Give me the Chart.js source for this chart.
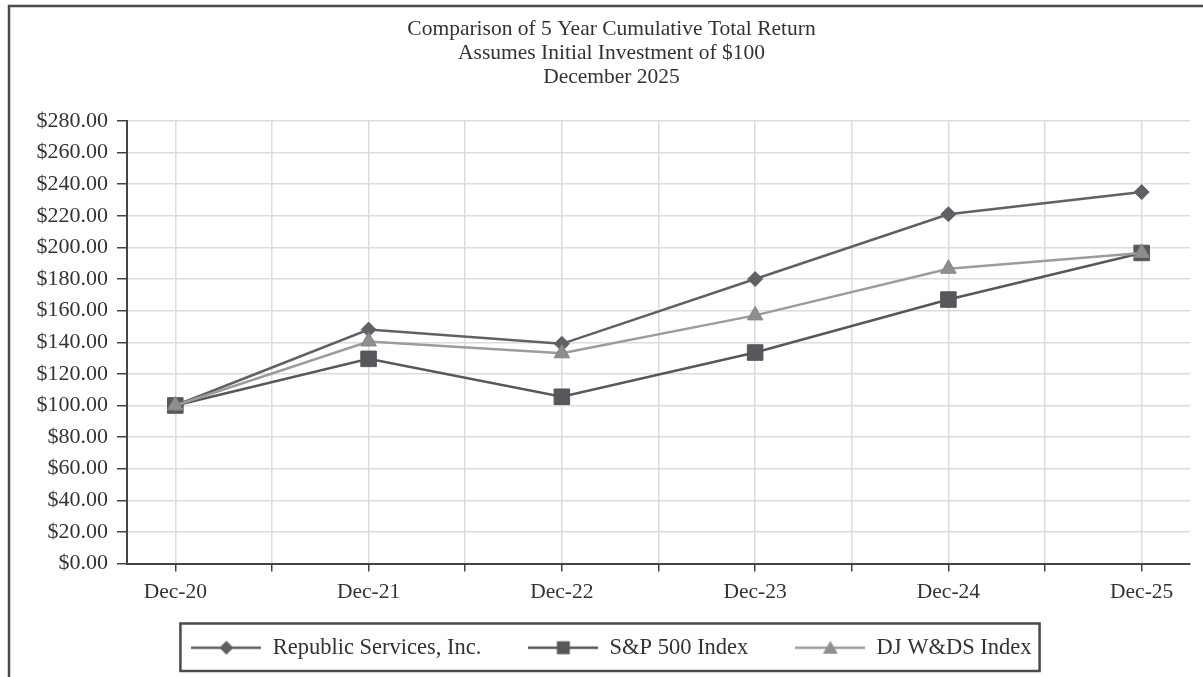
<!DOCTYPE html>
<html>
<head>
<meta charset="utf-8">
<script src="https://cdn.jsdelivr.net/npm/chart.js@4/dist/chart.umd.min.js"></script>
<style>
    html, body { margin: 0; padding: 0; background: #ffffff; }
    #wrap { width: 1203px; height: 677px; position: relative; }
</style>
</head>
<body>
<div id="wrap"><canvas id="returnChart"></canvas></div>
<script>
// ===================== DATA =====================

const categories = ['Dec-20', 'Dec-21', 'Dec-22', 'Dec-23', 'Dec-24', 'Dec-25'];
const republic = [100, 148, 139, 180, 221, 235];
const sp500 = [100, 129.5, 105.5, 133.5, 167, 196.5];
const djwds = [100, 140.5, 133, 157, 186.5, 196.5];
const seriesNames = ['Republic Services, Inc.', 'S&P 500 Index', 'DJ W&DS Index'];
const titleLines = ['Comparison of 5 Year Cumulative Total Return', 'Assumes Initial Investment of $100', 'December 2025'];
const yMin = 0;
const yMax = 280;
const yStep = 20;

const FONT = "'Liberation Serif', 'Times New Roman', serif";

// ===================== HELPERS =====================

function toPoints(values) {
    return values.map((v, i) => ({ x: i, y: v }));
}

// little line + marker swatch for the legend
function makeSwatch(color, markerColor, marker) {
    const c = document.createElement('canvas');
    c.width = 70;
    c.height = 20;
    const g = c.getContext('2d');
    g.strokeStyle = color;
    g.lineWidth = 2.5;
    g.beginPath();
    g.moveTo(0, 10);
    g.lineTo(70, 10);
    g.stroke();
    g.fillStyle = markerColor;
    g.beginPath();
    if (marker === 'diamond') {
        g.moveTo(35, 3); g.lineTo(42, 10); g.lineTo(35, 17); g.lineTo(28, 10);
    } else if (marker === 'square') {
        g.rect(28.5, 3.5, 13, 13);
    } else {
        g.moveTo(35, 3); g.lineTo(42.5, 16); g.lineTo(27.5, 16);
    }
    g.closePath();
    g.fill();
    return c;
}

const swatches = [
    makeSwatch('#606066', '#606066', 'diamond'),
    makeSwatch('#58585c', '#58585c', 'square'),
    makeSwatch('#9c9c9c', '#8e8e8e', 'triangle')
];

// outer frame and the box round the legend
const framePlugin = {
    id: 'frame',
    afterLayout(chart) {
        // let the x labels draw below the thin axis box without being clipped
        const x = chart.scales.x;
        x.bottom = x.top + 48;
    },
    afterDraw(chart) {
        const ctx = chart.ctx;
        ctx.save();
        ctx.strokeStyle = '#4a4a4a';
        ctx.lineWidth = 2.5;
        ctx.strokeRect(9, 6, 1400, 900);

        const boxes = chart.legend && chart.legend.legendHitBoxes;
        if (boxes && boxes.length) {
            const left = Math.min(...boxes.map(b => b.left)) - 11;
            const right = Math.max(...boxes.map(b => b.left + b.width)) + 8;
            const top = Math.min(...boxes.map(b => b.top)) - 13;
            const bottom = Math.max(...boxes.map(b => b.top + b.height)) + 12;
            ctx.lineWidth = 2.5;
            ctx.strokeRect(left, top, right - left, bottom - top);
        }
        ctx.restore();
    }
};

// ===================== CHART =====================

const ctx = document.getElementById('returnChart');

new Chart(ctx, {
    type: 'line',
    data: {
        datasets: [
            {
                label: seriesNames[0],
                data: toPoints(republic),
                borderColor: '#606066',
                backgroundColor: '#606066',
                borderWidth: 2.5,
                pointStyle: 'rectRot',
                pointRadius: 7.5,
                pointBorderWidth: 1,
                pointBackgroundColor: '#606066',
                pointBorderColor: '#606066',
                tension: 0,
                order: 1
            },
            {
                label: seriesNames[1],
                data: toPoints(sp500),
                borderColor: '#58585c',
                backgroundColor: '#58585c',
                borderWidth: 2.5,
                pointStyle: 'rect',
                pointRadius: 11,
                pointBorderWidth: 1,
                pointBackgroundColor: '#58585c',
                pointBorderColor: '#58585c',
                tension: 0,
                order: 2
            },
            {
                label: seriesNames[2],
                data: toPoints(djwds),
                borderColor: '#9c9c9c',
                backgroundColor: '#8e8e8e',
                borderWidth: 2.5,
                pointStyle: 'triangle',
                pointRadius: 9,
                pointBorderWidth: 1,
                pointBackgroundColor: '#8e8e8e',
                pointBorderColor: '#858585',
                tension: 0,
                order: 0
            }
        ]
    },
    options: {
        responsive: true,
        maintainAspectRatio: false,
        animation: false,
        layout: {
            padding: { left: 33, right: 13, top: 0, bottom: 8 }
        },
        plugins: {
            title: {
                display: true,
                text: titleLines,
                color: '#333333',
                font: { family: FONT, size: 21.5, weight: 'normal', lineHeight: 24 / 21.5 },
                padding: { top: 17, bottom: 32 }
            },
            legend: {
                position: 'bottom',
                labels: {
                    color: '#333333',
                    font: { family: FONT, size: 22.5 },
                    usePointStyle: true,
                    pointStyleWidth: 70,
                    padding: 47,
                    generateLabels: function(chart) {
                        return chart.data.datasets.map((ds, i) => ({
                            text: ds.label,
                            fontColor: '#333333',
                            pointStyle: swatches[i],
                            fillStyle: ds.backgroundColor,
                            strokeStyle: ds.borderColor,
                            lineWidth: 0,
                            hidden: false,
                            datasetIndex: i
                        }));
                    }
                }
            },
            tooltip: { enabled: false }
        },
        scales: {
            x: {
                type: 'linear',
                min: -0.25,
                max: categories.length - 0.75,
                afterBuildTicks: function(scale) {
                    const ticks = [];
                    for (let v = 0; v <= categories.length - 1; v += 0.5) {
                        ticks.push({ value: v });
                    }
                    scale.ticks = ticks;
                },
                afterFit: function(scale) {
                    scale.height = 26;
                },
                ticks: {
                    autoSkip: false,
                    maxRotation: 0,
                    padding: 8,
                    color: '#333333',
                    font: { family: FONT, size: 21.5 },
                    callback: function(value) {
                        return Number.isInteger(value) ? categories[value] : '';
                    }
                },
                grid: {
                    color: '#dcdcdc',
                    lineWidth: 1.5,
                    tickColor: '#444444',
                    tickLength: 8,
                    tickWidth: 1.5
                },
                border: { color: '#444444', width: 2 }
            },
            y: {
                min: yMin,
                max: yMax,
                afterFit: function(scale) {
                    scale.width = 94;
                },
                ticks: {
                    stepSize: yStep,
                    padding: 9,
                    color: '#333333',
                    font: { family: FONT, size: 22 },
                    callback: function(value) {
                        return '$' + value.toFixed(2);
                    }
                },
                grid: {
                    color: '#dcdcdc',
                    lineWidth: 1.5,
                    tickColor: '#444444',
                    tickLength: 10,
                    tickWidth: 1.5
                },
                border: { color: '#444444', width: 2 }
            }
        }
    },
    plugins: [framePlugin]
});
</script>
</body>
</html>
